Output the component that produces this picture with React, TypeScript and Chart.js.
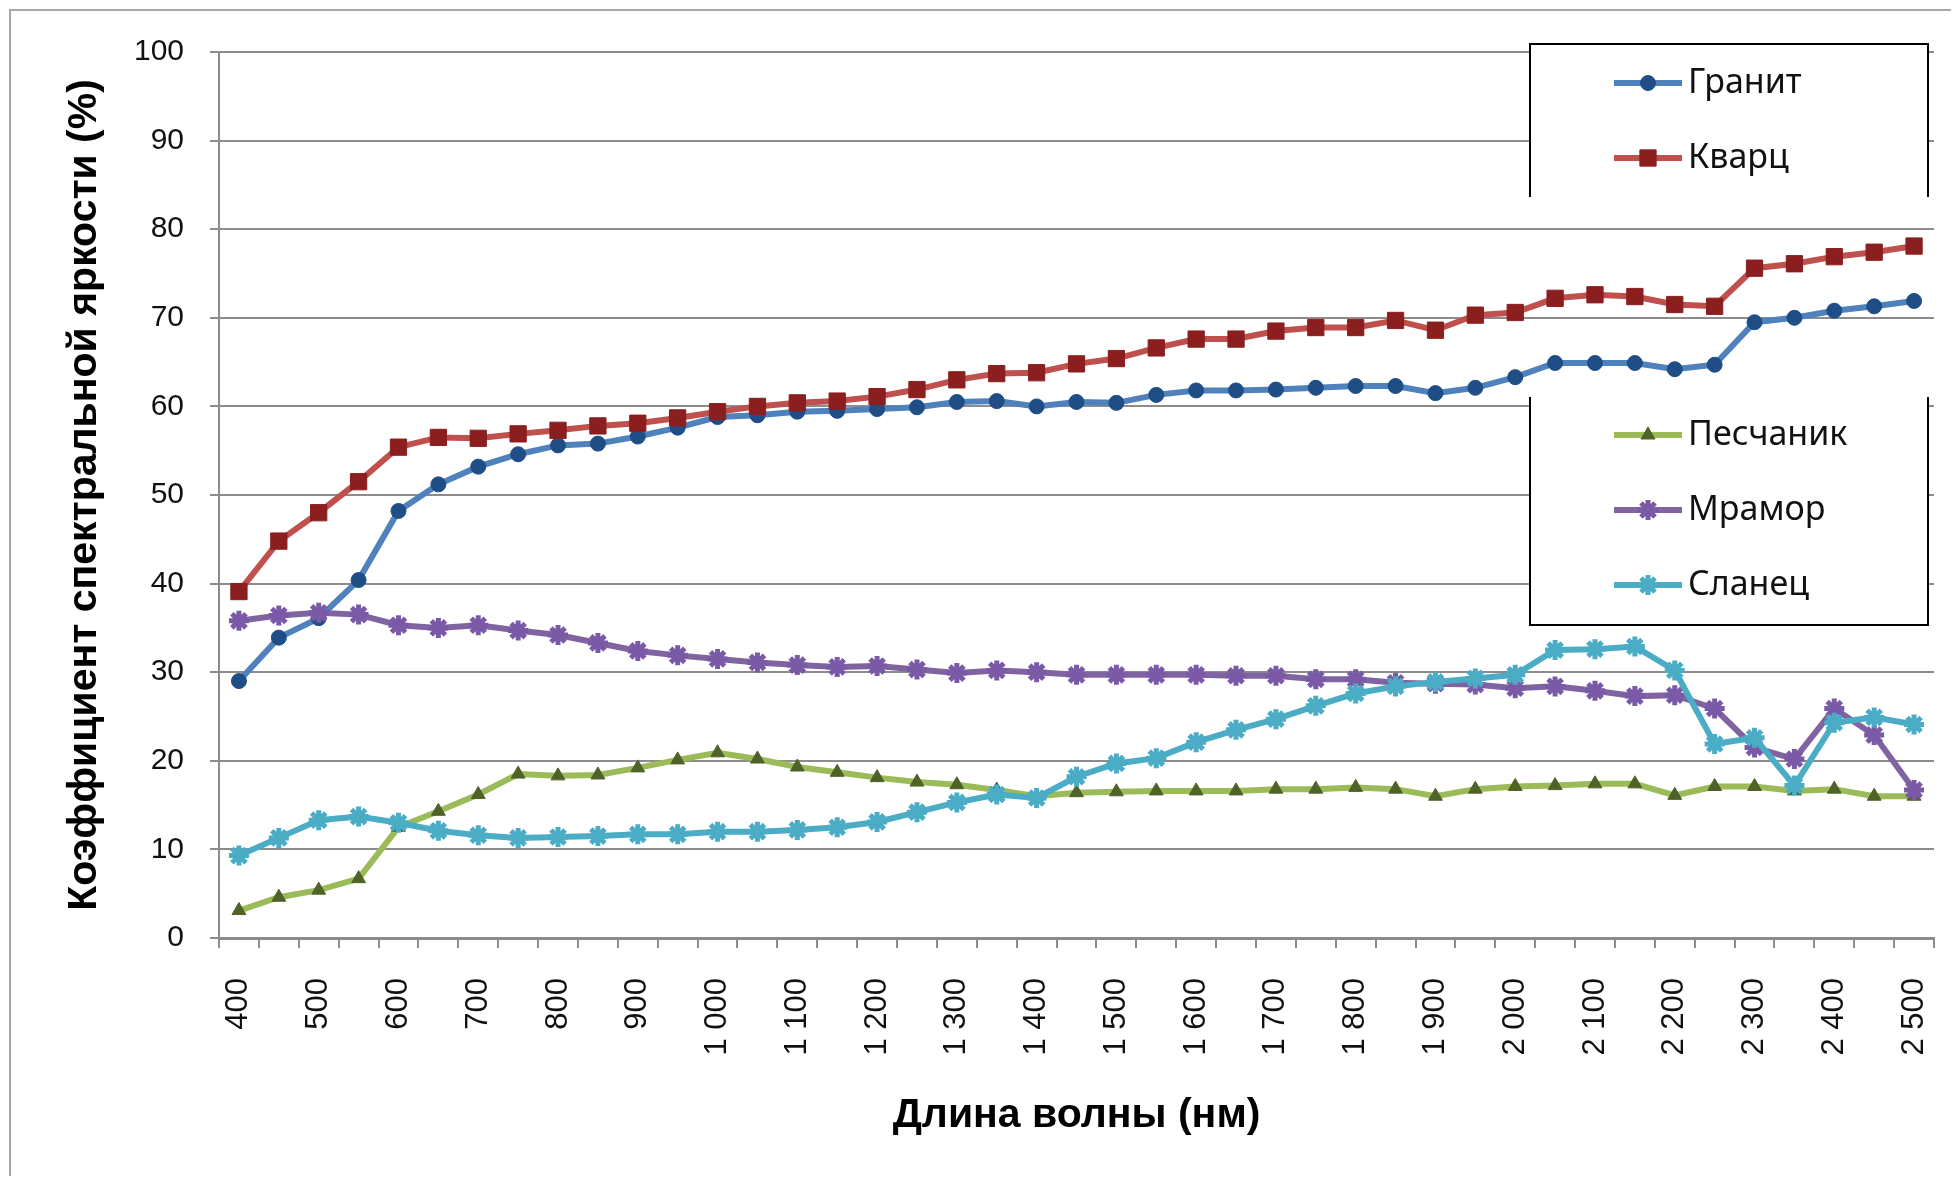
import React, { useEffect, useRef } from "react";
import { Chart, registerables } from "chart.js";

Chart.register(...registerables);

// Wavelength categories (nm)
const wavelengths = [
  400, 450, 500, 550, 600, 650, 700, 750, 800, 850,
  900, 950, 1000, 1050, 1100, 1150, 1200, 1250, 1300, 1350,
  1400, 1450, 1500, 1550, 1600, 1650, 1700, 1750, 1800, 1850,
  1900, 1950, 2000, 2050, 2100, 2150, 2200, 2250, 2300, 2350,
  2400, 2450, 2500,
];

// Labels shown on every second category
const xTickLabels = [
  "400", "500", "600", "700", "800", "900", "1 000", "1 100", "1 200", "1 300", "1 400",
  "1 500", "1 600", "1 700", "1 800", "1 900", "2 000", "2 100", "2 200", "2 300", "2 400", "2 500",
];

// Spectral brightness coefficient, %
const granite = [
  29.0, 33.9, 36.1, 40.4, 48.2, 51.2, 53.2, 54.6, 55.6, 55.8,
  56.6, 57.6, 58.8, 59.0, 59.4, 59.5, 59.7, 59.9, 60.5, 60.6,
  60.0, 60.5, 60.4, 61.3, 61.8, 61.8, 61.9, 62.1, 62.3, 62.3,
  61.5, 62.1, 63.3, 64.9, 64.9, 64.9, 64.2, 64.7, 69.5, 70.0,
  70.8, 71.3, 71.9,
];
const quartz = [
  39.1, 44.8, 48.0, 51.5, 55.4, 56.5, 56.4, 56.9, 57.3, 57.8,
  58.1, 58.7, 59.4, 60.0, 60.4, 60.6, 61.1, 61.9, 63.0, 63.7,
  63.8, 64.8, 65.4, 66.6, 67.6, 67.6, 68.5, 68.9, 68.9, 69.7,
  68.6, 70.3, 70.6, 72.2, 72.6, 72.4, 71.5, 71.3, 75.6, 76.1,
  76.9, 77.4, 78.1,
];
const sandstone = [
  3.1, 4.6, 5.4, 6.7, 12.5, 14.3, 16.2, 18.5, 18.3, 18.4,
  19.2, 20.1, 20.9, 20.2, 19.3, 18.7, 18.1, 17.6, 17.3, 16.7,
  16.0, 16.4, 16.5, 16.6, 16.6, 16.6, 16.8, 16.8, 17.0, 16.8,
  16.0, 16.8, 17.1, 17.2, 17.4, 17.4, 16.1, 17.1, 17.1, 16.6,
  16.8, 16.0, 16.0,
];
const marble = [
  35.8, 36.4, 36.7, 36.5, 35.3, 35.0, 35.3, 34.7, 34.2, 33.3,
  32.4, 31.9, 31.5, 31.1, 30.8, 30.6, 30.7, 30.3, 29.9, 30.2,
  30.0, 29.7, 29.7, 29.7, 29.7, 29.6, 29.6, 29.2, 29.2, 28.8,
  28.7, 28.6, 28.2, 28.4, 27.9, 27.3, 27.4, 25.9, 21.5, 20.2,
  25.9, 22.9, 16.7,
];
const slate = [
  9.3, 11.3, 13.3, 13.7, 13.0, 12.1, 11.6, 11.3, 11.4, 11.5,
  11.7, 11.7, 12.0, 12.0, 12.2, 12.5, 13.1, 14.2, 15.3, 16.2,
  15.8, 18.2, 19.7, 20.3, 22.1, 23.5, 24.7, 26.2, 27.6, 28.4,
  28.9, 29.3, 29.7, 32.5, 32.6, 32.9, 30.2, 21.9, 22.6, 17.2,
  24.3, 24.9, 24.1,
];

const seriesNames = ["Гранит", "Кварц", "Песчаник", "Мрамор", "Сланец"];
const yTitle = "Коэффициент спектральной яркости (%)";
const xTitle = "Длина волны (нм)";

const W = 1943;
const H = 1168;
const GRID = "#8c8c8c";
const SANS = "'Liberation Sans', Arial, sans-serif";

type Marker = "circle" | "rect" | "triangle" | "star";

function drawMarker(
  ctx: CanvasRenderingContext2D,
  style: Marker,
  x: number,
  y: number,
  r: number,
  fill: string,
  stroke: string,
  lw: number
) {
  ctx.save();
  ctx.fillStyle = fill;
  ctx.strokeStyle = stroke;
  ctx.lineWidth = lw;
  ctx.beginPath();
  if (style === "circle") {
    ctx.arc(x, y, r, 0, Math.PI * 2);
    ctx.fill();
    ctx.stroke();
  } else if (style === "rect") {
    const s = r * Math.SQRT1_2;
    ctx.rect(x - s, y - s, 2 * s, 2 * s);
    ctx.fill();
    ctx.stroke();
  } else if (style === "triangle") {
    ctx.moveTo(x, y - r);
    ctx.lineTo(x + 0.866 * r, y + 0.5 * r);
    ctx.lineTo(x - 0.866 * r, y + 0.5 * r);
    ctx.closePath();
    ctx.fill();
    ctx.stroke();
  } else {
    for (let k = 0; k < 4; k++) {
      const a = (k * Math.PI) / 4;
      ctx.moveTo(x - Math.cos(a) * r, y - Math.sin(a) * r);
      ctx.lineTo(x + Math.cos(a) * r, y + Math.sin(a) * r);
    }
    ctx.stroke();
  }
  ctx.restore();
}

// Legend panels: upper panel open at the bottom, lower panel open at the top
const LEG_L = 1522;
const LEG_R = 1920;
const LEG1_T = 36;
const LEG1_B = 189;
const LEG2_T = 389;
const LEG2_B = 617;
const LEG_ROWS = [75, 150, 427, 502, 577];

const splitLegend = {
  id: "splitLegend",
  afterDraw(chart: any) {
    const ctx: CanvasRenderingContext2D = chart.ctx;
    ctx.save();
    ctx.fillStyle = "#ffffff";
    ctx.fillRect(LEG_L, LEG1_T, LEG_R - LEG_L, LEG1_B - LEG1_T);
    ctx.fillRect(LEG_L, LEG2_T, LEG_R - LEG_L, LEG2_B - LEG2_T);
    ctx.strokeStyle = "#000000";
    ctx.lineWidth = 2;
    ctx.beginPath();
    ctx.moveTo(LEG_L, LEG1_B);
    ctx.lineTo(LEG_L, LEG1_T);
    ctx.lineTo(LEG_R, LEG1_T);
    ctx.lineTo(LEG_R, LEG1_B);
    ctx.stroke();
    ctx.beginPath();
    ctx.moveTo(LEG_L, LEG2_T);
    ctx.lineTo(LEG_L, LEG2_B);
    ctx.lineTo(LEG_R, LEG2_B);
    ctx.lineTo(LEG_R, LEG2_T);
    ctx.stroke();

    chart.data.datasets.forEach((ds: any, i: number) => {
      const y = LEG_ROWS[i];
      ctx.strokeStyle = ds.borderColor;
      ctx.lineWidth = ds.borderWidth;
      ctx.beginPath();
      ctx.moveTo(1606, y);
      ctx.lineTo(1674, y);
      ctx.stroke();
      drawMarker(
        ctx,
        ds.pointStyle,
        1640,
        y,
        ds.pointRadius,
        ds.pointBackgroundColor,
        ds.pointBorderColor,
        ds.pointBorderWidth
      );
      ctx.fillStyle = "#111111";
      ctx.font = "34px 'Noto Sans'";
      ctx.textAlign = "left";
      ctx.textBaseline = "middle";
      ctx.fillText(ds.label, 1680, y);
    });
    ctx.restore();
  },
};

// Thin outer frame around the whole chart
const outerFrame = {
  id: "outerFrame",
  beforeDraw(chart: any) {
    const ctx: CanvasRenderingContext2D = chart.ctx;
    ctx.save();
    ctx.fillStyle = "#ffffff";
    ctx.fillRect(0, 0, chart.width, chart.height);
    ctx.strokeStyle = "#a8a8a8";
    ctx.lineWidth = 2;
    ctx.strokeRect(2, 2, chart.width + 20, chart.height + 20);
    ctx.restore();
  },
};

export default function App() {
  const canvasRef = useRef<HTMLCanvasElement | null>(null);

  useEffect(() => {
    const canvas = canvasRef.current;
    if (!canvas) return;

    const mk = (
      label: string,
      data: number[],
      line: string,
      style: Marker,
      radius: number,
      fill: string,
      border: string,
      bw: number,
      order: number
    ) => ({
      label,
      data,
      borderColor: line,
      backgroundColor: line,
      borderWidth: 6,
      pointStyle: style,
      pointRadius: radius,
      pointBackgroundColor: fill,
      pointBorderColor: border,
      pointBorderWidth: bw,
      tension: 0,
      order,
    });

    const chart = new Chart(canvas, {
      type: "line",
      data: {
        labels: wavelengths.map(String),
        datasets: [
          mk(seriesNames[0], granite, "#4f81bd", "circle", 7.5, "#1f4e86", "#1f4e86", 1, 4),
          mk(seriesNames[1], quartz, "#c0504d", "rect", 11.5, "#8b1f1f", "#8b1f1f", 1, 3),
          mk(seriesNames[2], sandstone, "#9bbb59", "triangle", 8, "#4f6228", "#4f6228", 1, 2),
          mk(seriesNames[3], marble, "#8064a2", "star", 10, "#7a5aa6", "#7a5aa6", 5, 1),
          mk(seriesNames[4], slate, "#4bacc6", "star", 10, "#4bacc6", "#4bacc6", 5, 0),
        ],
      },
      options: {
        responsive: false,
        animation: false,
        layout: { padding: { top: 42, right: 17, left: 0, bottom: 0 } },
        plugins: {
          legend: { display: false },
          tooltip: { enabled: false },
        },
        scales: {
          x: {
            type: "category",
            offset: true,
            grid: {
              offset: true,
              drawOnChartArea: false,
              drawTicks: true,
              tickLength: 10,
              color: GRID,
              lineWidth: 2,
            },
            border: { color: GRID, width: 3 },
            ticks: {
              autoSkip: false,
              maxRotation: 90,
              minRotation: 90,
              padding: 30,
              color: "#111111",
              font: { family: SANS, size: 31 },
              callback: (_v: any, i: number) => (i % 2 === 0 ? xTickLabels[i / 2] : ""),
            },
            title: {
              display: true,
              text: xTitle,
              color: "#000000",
              font: { family: SANS, size: 41, weight: "bold" },
              padding: { top: 0, bottom: 36 },
            },
            afterFit: (s: any) => {
              s.height = 238;
              s.paddingLeft = 0;
              s.paddingRight = 0;
            },
          },
          y: {
            min: 0,
            max: 100,
            grid: { color: GRID, lineWidth: 2, tickLength: 9 },
            border: { color: GRID, width: 2 },
            ticks: {
              stepSize: 10,
              padding: 26,
              color: "#111111",
              font: { family: SANS, size: 30 },
            },
            title: {
              display: true,
              text: yTitle,
              color: "#000000",
              font: { family: SANS, size: 41, weight: "bold" },
              padding: { top: 52, bottom: 0 },
            },
            afterFit: (s: any) => {
              s.width = 211;
            },
          },
        },
      },
      plugins: [outerFrame, splitLegend],
    } as any);

    return () => chart.destroy();
  }, []);

  return (
    <div style={{ width: W, height: H }}>
      <canvas ref={canvasRef} width={W} height={H} style={{ display: "block", width: W, height: H }} />
    </div>
  );
}
